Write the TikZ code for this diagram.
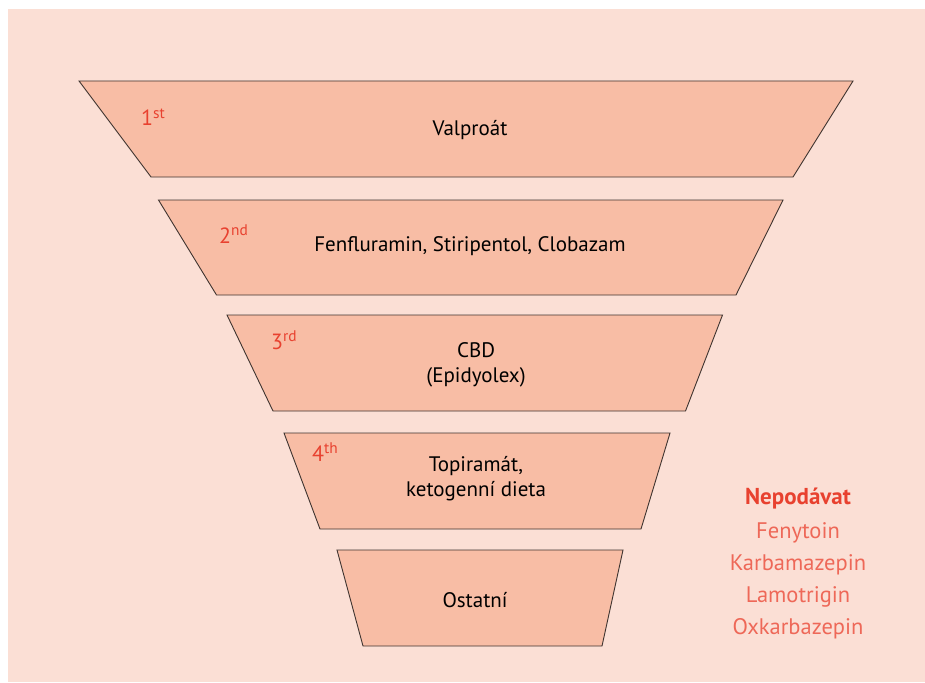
\documentclass[tikz,border=0pt]{standalone}
\usepackage{fontspec}
\setmainfont{PT Sans}
\definecolor{bgpink}{HTML}{FBDFD5}
\definecolor{trfill}{HTML}{F8BDA5}
\definecolor{edge}{HTML}{3F3430}
\definecolor{ordred}{HTML}{E8412F}
\definecolor{listred}{HTML}{EE6858}
\begin{document}
\begin{tikzpicture}[x=1pt,y=-1pt,
  tier/.style={fill=trfill,draw=edge,line width=0.9pt,line join=miter},
  lab/.style={font=\fontsize{21}{25}\selectfont,text=black,align=center,inner sep=0pt},
  ord/.style={font=\fontsize{22}{24}\selectfont,text=ordred,anchor=west,inner sep=0pt},
  listhead/.style={font=\fontsize{23}{26}\selectfont\bfseries,text=ordred,inner sep=0pt},
  listitem/.style={font=\fontsize{22.5}{26}\selectfont,text=listred,inner sep=0pt}]
\useasboundingbox (0,0) rectangle (925,682);
\fill[white] (0,0) rectangle (925,682);
\fill[bgpink] (8,9) rectangle (925,682);
% tiers
\draw[tier] (79,81) -- (853,81) -- (793,177) -- (151,177) -- cycle;
\draw[tier] (158.5,200) -- (783,200) -- (736,295) -- (216.5,295) -- cycle;
\draw[tier] (227,315) -- (722.5,315) -- (685.5,411) -- (273,411) -- cycle;
\draw[tier] (284,433) -- (670,433) -- (641,529) -- (320,529) -- cycle;
\draw[tier] (337,550) -- (623,550) -- (602,646) -- (363,646) -- cycle;
% labels
\node[lab] (t1) at (470,130) {Valproát};
\node[lab] (t2) at (470,246) {Fenfluramin, Stiripentol, Clobazam};
\node[lab] (t3) at (476,364.5) {CBD\\(Epidyolex)};
\node[lab] (t4) at (476,478.5) {Topiramát,\\ketogenní dieta};
\node[lab] (t5) at (475,600) {Ostatní};
% ordinals
\node[ord] (o1) at (141,117) {1\textsuperscript{st}};
\node[ord] (o2) at (219,234) {2\textsuperscript{nd}};
\node[ord] (o3) at (271,340) {3\textsuperscript{rd}};
\node[ord] (o4) at (312,452) {4\textsuperscript{th}};
% list
\node[listhead] (h) at (798,499) {Nepodávat};
\node[listitem] (l1) at (798,533) {Fenytoin};
\node[listitem] (l2) at (798,565) {Karbamazepin};
\node[listitem] (l3) at (798,597) {Lamotrigin};
\node[listitem] (l4) at (798,629) {Oxkarbazepin};
\end{tikzpicture}
\end{document}
